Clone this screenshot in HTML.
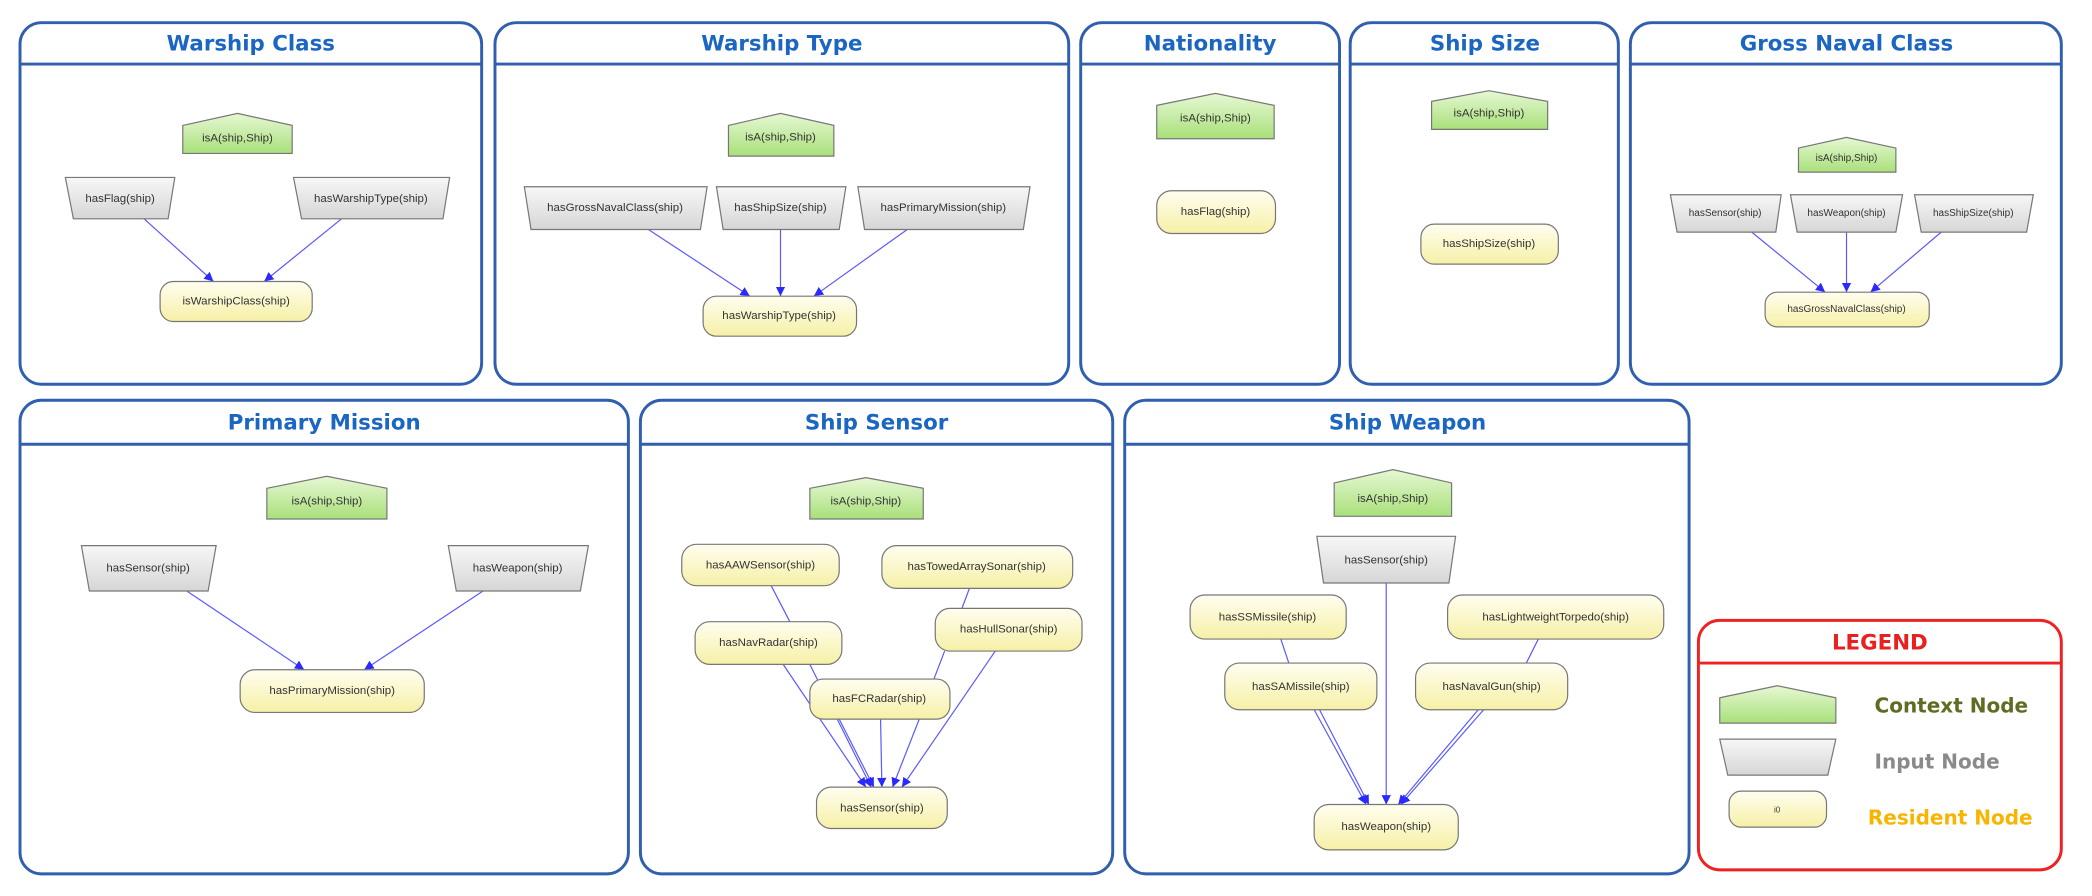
<!DOCTYPE html>
<html><head><meta charset="utf-8"><style>
html,body{margin:0;padding:0;background:#fff;}
svg{display:block;}
.t{font-family:"DejaVu Sans","Liberation Sans",sans-serif;font-weight:bold;font-size:16px;fill:#1a66c2;text-anchor:middle;}
.n{font-family:"Liberation Sans",sans-serif;font-size:8.6px;fill:#333;text-anchor:middle;dominant-baseline:central;}
.p{fill:none;stroke:#2f5fae;stroke-width:2.2;}
.c{fill:url(#gG);stroke:#777;stroke-width:0.9;}
.i{fill:url(#gI);stroke:#777;stroke-width:0.9;}
.r{fill:url(#gY);stroke:#777;stroke-width:0.9;}
.e{stroke:#5a5aff;stroke-width:0.9;fill:none;}
.a{stroke:#5a5aff;stroke-width:0.9;fill:none;marker-end:url(#ar);}
</style></head><body>
<svg width="2092" height="896" viewBox="0 0 1568 671.6" preserveAspectRatio="none" xmlns="http://www.w3.org/2000/svg">
<defs>
<linearGradient id="gG" x1="0" y1="0" x2="0" y2="1"><stop offset="0" stop-color="#e6f8d4"/><stop offset="1" stop-color="#a9e07a"/></linearGradient>
<linearGradient id="gI" x1="0" y1="0" x2="0" y2="1"><stop offset="0" stop-color="#f7f7f7"/><stop offset="1" stop-color="#d6d6d6"/></linearGradient>
<linearGradient id="gY" x1="0" y1="0" x2="0" y2="1"><stop offset="0" stop-color="#fffef0"/><stop offset="1" stop-color="#f6f0a6"/></linearGradient>
<marker id="ar" viewBox="0 0 10 10" refX="10" refY="5" markerWidth="7" markerHeight="7" orient="auto" markerUnits="userSpaceOnUse"><path d="M0,0 L10,5 L0,10 z" fill="#2a2aff"/></marker>
</defs>

<!-- Panels -->
<rect class="p" x="15" y="17" width="346" height="271" rx="16"/><line class="p" x1="15" y1="48" x2="361" y2="48"/>
<text class="t" x="188" y="38">Warship Class</text>
<rect class="p" x="371" y="17" width="430" height="271" rx="16"/><line class="p" x1="371" y1="48" x2="801" y2="48"/>
<text class="t" x="586" y="38">Warship Type</text>
<rect class="p" x="810" y="17" width="194" height="271" rx="16"/><line class="p" x1="810" y1="48" x2="1004" y2="48"/>
<text class="t" x="907" y="38">Nationality</text>
<rect class="p" x="1012" y="17" width="201" height="271" rx="16"/><line class="p" x1="1012" y1="48" x2="1213" y2="48"/>
<text class="t" x="1113" y="38">Ship Size</text>
<rect class="p" x="1222" y="17" width="323" height="271" rx="16"/><line class="p" x1="1222" y1="48" x2="1545" y2="48"/>
<text class="t" x="1384" y="38">Gross Naval Class</text>

<rect class="p" x="15" y="300" width="456" height="355" rx="16"/><line class="p" x1="15" y1="333" x2="471" y2="333"/>
<text class="t" x="243" y="322">Primary Mission</text>
<rect class="p" x="480" y="300" width="354" height="355" rx="16"/><line class="p" x1="480" y1="333" x2="834" y2="333"/>
<text class="t" x="657" y="322">Ship Sensor</text>
<rect class="p" x="843" y="300" width="423" height="355" rx="16"/><line class="p" x1="843" y1="333" x2="1266" y2="333"/>
<text class="t" x="1055" y="322">Ship Weapon</text>
<rect x="1273" y="465" width="272" height="187" rx="16" fill="none" stroke="#ee2222" stroke-width="2.2"/><line x1="1273" y1="497" x2="1545" y2="497" stroke="#ee2222" stroke-width="2.2"/>
<text class="t" x="1409" y="487" style="fill:#e82020">LEGEND</text>

<!-- Warship Class -->
<line class="a" x1="108" y1="164" x2="160" y2="211"/>
<line class="a" x1="256" y1="164" x2="198" y2="211"/>
<polygon class="c" points="137,94 178,85 219,94 219,115 137,115"/><text class="n" x="178" y="104">isA(ship,Ship)</text>
<polygon class="i" points="49,133 131,133 126,164 55,164"/><text class="n" x="90" y="149">hasFlag(ship)</text>
<polygon class="i" points="220,133 337,133 332,164 226,164"/><text class="n" x="278" y="149">hasWarshipType(ship)</text>
<rect class="r" x="120" y="211" width="114" height="30" rx="10"/><text class="n" x="177" y="226">isWarshipClass(ship)</text>

<!-- Warship Type -->
<line class="a" x1="486" y1="172" x2="562" y2="222"/>
<line class="a" x1="585" y1="172" x2="585" y2="222"/>
<line class="a" x1="680" y1="172" x2="610" y2="222"/>
<polygon class="c" points="546,94 585,85 625,94 625,117 546,117"/><text class="n" x="585" y="103">isA(ship,Ship)</text>
<polygon class="i" points="393,140 530,140 525,172 398,172"/><text class="n" x="461" y="156">hasGrossNavalClass(ship)</text>
<polygon class="i" points="537,140 634,140 629,172 542,172"/><text class="n" x="585" y="156">hasShipSize(ship)</text>
<polygon class="i" points="643,140 772,140 767,172 648,172"/><text class="n" x="707" y="156">hasPrimaryMission(ship)</text>
<rect class="r" x="527" y="222" width="115" height="30" rx="10"/><text class="n" x="584" y="237">hasWarshipType(ship)</text>

<!-- Nationality -->
<polygon class="c" points="867,79 911,70 955,79 955,104 867,104"/><text class="n" x="911" y="89">isA(ship,Ship)</text>
<rect class="r" x="867" y="143" width="89" height="32" rx="11"/><text class="n" x="911" y="159">hasFlag(ship)</text>

<!-- Ship Size -->
<polygon class="c" points="1073,76 1116,68 1160,76 1160,97 1073,97"/><text class="n" x="1116" y="85">isA(ship,Ship)</text>
<rect class="r" x="1065" y="168" width="103" height="30" rx="10"/><text class="n" x="1116" y="183">hasShipSize(ship)</text>

<!-- Gross Naval Class -->
<line class="a" x1="1313" y1="174" x2="1368" y2="219"/>
<line class="a" x1="1384" y1="174" x2="1384" y2="219"/>
<line class="a" x1="1455" y1="174" x2="1402" y2="219"/>
<polygon class="c" points="1348,111 1384,103 1421,111 1421,129 1348,129"/><text class="n" x="1384" y="119" style="font-size:7.5px">isA(ship,Ship)</text>
<polygon class="i" points="1252,146 1335,146 1331,174 1257,174"/><text class="n" x="1293" y="160" style="font-size:7.5px">hasSensor(ship)</text>
<polygon class="i" points="1342,146 1426,146 1421,174 1347,174"/><text class="n" x="1384" y="160" style="font-size:7.5px">hasWeapon(ship)</text>
<polygon class="i" points="1435,146 1524,146 1519,174 1440,174"/><text class="n" x="1479" y="160" style="font-size:7.5px">hasShipSize(ship)</text>
<rect class="r" x="1323" y="219" width="123" height="26" rx="9"/><text class="n" x="1384" y="232" style="font-size:7.5px">hasGrossNavalClass(ship)</text>

<!-- Primary Mission -->
<line class="a" x1="140" y1="443" x2="228" y2="502"/>
<line class="a" x1="362" y1="443" x2="273" y2="502"/>
<polygon class="c" points="200,366 245,357 290,366 290,389 200,389"/><text class="n" x="245" y="376">isA(ship,Ship)</text>
<polygon class="i" points="61,409 162,409 156,443 67,443"/><text class="n" x="111" y="426">hasSensor(ship)</text>
<polygon class="i" points="336,409 441,409 435,443 342,443"/><text class="n" x="388" y="426">hasWeapon(ship)</text>
<rect class="r" x="180" y="502" width="138" height="32" rx="11"/><text class="n" x="249" y="518">hasPrimaryMission(ship)</text>

<!-- Ship Sensor -->
<line class="e" x1="578" y1="439" x2="592" y2="466"/>
<line class="a" x1="587" y1="498" x2="649" y2="590"/>
<line class="a" x1="607" y1="498" x2="653" y2="590"/>
<line class="a" x1="629" y1="539" x2="655" y2="590"/>
<line class="a" x1="660" y1="539" x2="661" y2="590"/>
<line class="a" x1="689" y1="539" x2="669" y2="590"/>
<line class="e" x1="727" y1="440" x2="721" y2="456"/>
<line class="e" x1="708" y1="488" x2="700" y2="509"/>
<line class="a" x1="746" y1="488" x2="676" y2="590"/>
<polygon class="c" points="607,366 649,358 692,366 692,389 607,389"/><text class="n" x="649" y="376">isA(ship,Ship)</text>
<rect class="r" x="511" y="408" width="118" height="31" rx="11"/><text class="n" x="570" y="424">hasAAWSensor(ship)</text>
<rect class="r" x="661" y="409" width="143" height="32" rx="11"/><text class="n" x="732" y="425">hasTowedArraySonar(ship)</text>
<rect class="r" x="521" y="466" width="110" height="32" rx="11"/><text class="n" x="576" y="482">hasNavRadar(ship)</text>
<rect class="r" x="701" y="456" width="110" height="32" rx="11"/><text class="n" x="756" y="472">hasHullSonar(ship)</text>
<rect class="r" x="607" y="509" width="105" height="30" rx="10"/><text class="n" x="659" y="524">hasFCRadar(ship)</text>
<rect class="r" x="612" y="590" width="98" height="31" rx="11"/><text class="n" x="661" y="606">hasSensor(ship)</text>

<!-- Ship Weapon -->
<line class="e" x1="960" y1="479" x2="966" y2="497"/>
<line class="e" x1="1153" y1="479" x2="1144" y2="497"/>
<line class="a" x1="1039" y1="437" x2="1039" y2="603"/>
<line class="a" x1="985" y1="532" x2="1024" y2="603"/>
<line class="a" x1="989" y1="532" x2="1026" y2="603"/>
<line class="a" x1="1112" y1="532" x2="1050" y2="603"/>
<line class="a" x1="1108" y1="532" x2="1048" y2="603"/>
<polygon class="c" points="1000,362 1044,352 1088,362 1088,387 1000,387"/><text class="n" x="1044" y="374">isA(ship,Ship)</text>
<polygon class="i" points="987,402 1091,402 1086,437 992,437"/><text class="n" x="1039" y="420">hasSensor(ship)</text>
<rect class="r" x="892" y="446" width="117" height="33" rx="11"/><text class="n" x="950" y="463">hasSSMissile(ship)</text>
<rect class="r" x="1085" y="446" width="162" height="33" rx="11"/><text class="n" x="1166" y="463">hasLightweightTorpedo(ship)</text>
<rect class="r" x="918" y="497" width="114" height="35" rx="11"/><text class="n" x="975" y="515">hasSAMissile(ship)</text>
<rect class="r" x="1061" y="497" width="114" height="35" rx="11"/><text class="n" x="1118" y="515">hasNavalGun(ship)</text>
<rect class="r" x="985" y="603" width="108" height="34" rx="11"/><text class="n" x="1039" y="620">hasWeapon(ship)</text>

<!-- Legend -->
<polygon class="c" points="1289,523 1332,514 1376,523 1376,542 1289,542"/>
<polygon class="i" points="1289,554 1376,554 1370,581 1295,581"/>
<rect class="r" x="1296" y="593" width="73" height="27" rx="9"/><text class="n" x="1332" y="607" style="font-size:6px">i0</text>
<text x="1405" y="534" style="font-family:'DejaVu Sans',sans-serif;font-weight:bold;font-size:15px;fill:#5d6e22">Context Node</text>
<text x="1405" y="576" style="font-family:'DejaVu Sans',sans-serif;font-weight:bold;font-size:15px;fill:#8a8a8a">Input Node</text>
<text x="1400" y="618" style="font-family:'DejaVu Sans',sans-serif;font-weight:bold;font-size:15px;fill:#f7b500">Resident Node</text>
</svg>
</body></html>
